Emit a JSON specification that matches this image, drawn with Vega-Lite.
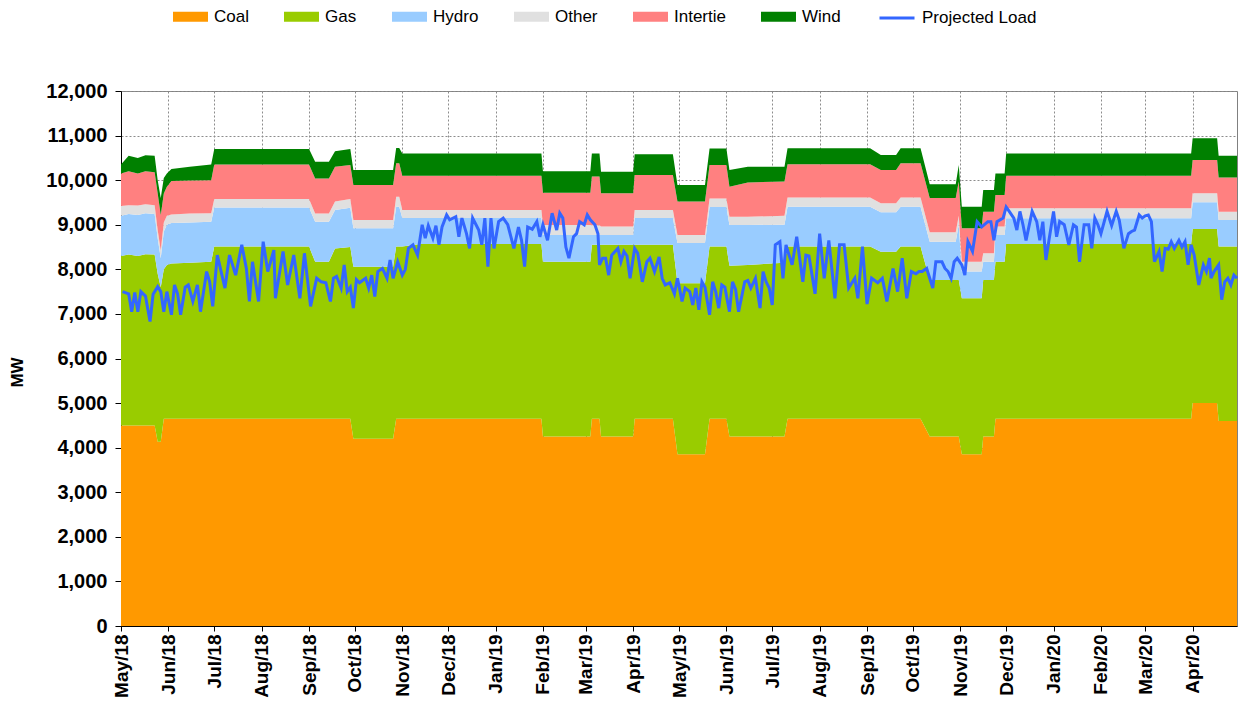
{
"$schema": "https://vega.github.io/schema/vega-lite/v6.json",
"width": 1116, "height": 535,
"autosize": {"type": "none"},
"padding": {"left": 121, "top": 91, "right": 2, "bottom": 81},
"background": "white",
"config": {
  "font": "Liberation Sans",
  "view": {"stroke": "#808080", "strokeWidth": 1},
  "axis": {"domainColor": "black", "tickColor": "black", "labelColor": "black", "titleColor": "black", "gridColor": "#8c8c8c", "gridDash": [2, 2], "gridWidth": 1, "zindex": 1}
},
"datasets": {
"rank": [{"source": "Coal", "rank": 1}, {"source": "Gas", "rank": 2}, {"source": "Hydro", "rank": 3}, {"source": "Other", "rank": 4}, {"source": "Intertie", "rank": 5}, {"source": "Wind", "rank": 6}],
"gen": [
{"d": "2018/05/01", "Coal": 4500, "Gas": 3800, "Hydro": 900, "Other": 220, "Intertie": 730, "Wind": 200},
{"d": "2018/05/06", "Coal": 4500, "Gas": 3830, "Hydro": 910, "Other": 200, "Intertie": 760, "Wind": 350},
{"d": "2018/05/12", "Coal": 4500, "Gas": 3800, "Hydro": 920, "Other": 210, "Intertie": 720, "Wind": 350},
{"d": "2018/05/17", "Coal": 4500, "Gas": 3840, "Hydro": 920, "Other": 200, "Intertie": 740, "Wind": 360},
{"d": "2018/05/23", "Coal": 4500, "Gas": 3830, "Hydro": 910, "Other": 200, "Intertie": 740, "Wind": 370},
{"d": "2018/05/25", "Coal": 4130, "Gas": 3770, "Hydro": 800, "Other": 180, "Intertie": 820, "Wind": 300},
{"d": "2018/05/27", "Coal": 4130, "Gas": 3470, "Hydro": 650, "Other": 180, "Intertie": 790, "Wind": 380},
{"d": "2018/05/29", "Coal": 4650, "Gas": 3350, "Hydro": 850, "Other": 200, "Intertie": 650, "Wind": 350},
{"d": "2018/05/31", "Coal": 4650, "Gas": 3450, "Hydro": 900, "Other": 200, "Intertie": 650, "Wind": 300},
{"d": "2018/06/03", "Coal": 4650, "Gas": 3480, "Hydro": 910, "Other": 190, "Intertie": 750, "Wind": 270},
{"d": "2018/06/15", "Coal": 4650, "Gas": 3500, "Hydro": 900, "Other": 200, "Intertie": 740, "Wind": 310},
{"d": "2018/06/29", "Coal": 4650, "Gas": 3520, "Hydro": 900, "Other": 190, "Intertie": 740, "Wind": 350},
{"d": "2018/07/01", "Coal": 4650, "Gas": 3860, "Hydro": 875, "Other": 195, "Intertie": 770, "Wind": 350},
{"d": "2018/09/01", "Coal": 4650, "Gas": 3860, "Hydro": 875, "Other": 195, "Intertie": 770, "Wind": 350},
{"d": "2018/09/05", "Coal": 4650, "Gas": 3520, "Hydro": 900, "Other": 185, "Intertie": 785, "Wind": 375},
{"d": "2018/09/14", "Coal": 4650, "Gas": 3520, "Hydro": 900, "Other": 185, "Intertie": 785, "Wind": 375},
{"d": "2018/09/18", "Coal": 4650, "Gas": 3820, "Hydro": 860, "Other": 190, "Intertie": 780, "Wind": 350},
{"d": "2018/09/28", "Coal": 4650, "Gas": 3850, "Hydro": 880, "Other": 200, "Intertie": 760, "Wind": 360},
{"d": "2018/09/30", "Coal": 4200, "Gas": 3860, "Hydro": 860, "Other": 185, "Intertie": 785, "Wind": 340},
{"d": "2018/10/26", "Coal": 4200, "Gas": 3860, "Hydro": 860, "Other": 185, "Intertie": 785, "Wind": 340},
{"d": "2018/10/28", "Coal": 4650, "Gas": 3860, "Hydro": 895, "Other": 225, "Intertie": 750, "Wind": 340},
{"d": "2018/10/30", "Coal": 4650, "Gas": 3860, "Hydro": 895, "Other": 225, "Intertie": 750, "Wind": 340},
{"d": "2018/11/01", "Coal": 4650, "Gas": 3860, "Hydro": 640, "Other": 180, "Intertie": 770, "Wind": 500},
{"d": "2018/11/13", "Coal": 4650, "Gas": 3920, "Hydro": 580, "Other": 180, "Intertie": 770, "Wind": 500},
{"d": "2019/01/31", "Coal": 4650, "Gas": 3920, "Hydro": 580, "Other": 180, "Intertie": 770, "Wind": 500},
{"d": "2019/02/01", "Coal": 4250, "Gas": 3920, "Hydro": 600, "Other": 225, "Intertie": 725, "Wind": 480},
{"d": "2019/03/04", "Coal": 4250, "Gas": 3920, "Hydro": 600, "Other": 225, "Intertie": 725, "Wind": 480},
{"d": "2019/03/05", "Coal": 4650, "Gas": 3900, "Hydro": 220, "Other": 220, "Intertie": 1090, "Wind": 520},
{"d": "2019/03/10", "Coal": 4650, "Gas": 3900, "Hydro": 220, "Other": 220, "Intertie": 1090, "Wind": 520},
{"d": "2019/03/11", "Coal": 4250, "Gas": 4300, "Hydro": 220, "Other": 190, "Intertie": 745, "Wind": 485},
{"d": "2019/04/01", "Coal": 4250, "Gas": 4300, "Hydro": 220, "Other": 190, "Intertie": 745, "Wind": 485},
{"d": "2019/04/02", "Coal": 4650, "Gas": 3900, "Hydro": 600, "Other": 180, "Intertie": 785, "Wind": 465},
{"d": "2019/04/27", "Coal": 4650, "Gas": 3900, "Hydro": 600, "Other": 180, "Intertie": 785, "Wind": 465},
{"d": "2019/04/30", "Coal": 3850, "Gas": 3840, "Hydro": 900, "Other": 180, "Intertie": 750, "Wind": 370},
{"d": "2019/05/18", "Coal": 3850, "Gas": 3840, "Hydro": 900, "Other": 180, "Intertie": 750, "Wind": 370},
{"d": "2019/05/21", "Coal": 4650, "Gas": 3860, "Hydro": 890, "Other": 190, "Intertie": 750, "Wind": 370},
{"d": "2019/06/01", "Coal": 4650, "Gas": 3860, "Hydro": 890, "Other": 190, "Intertie": 750, "Wind": 370},
{"d": "2019/06/03", "Coal": 4250, "Gas": 3830, "Hydro": 915, "Other": 185, "Intertie": 675, "Wind": 375},
{"d": "2019/06/15", "Coal": 4250, "Gas": 3850, "Hydro": 895, "Other": 185, "Intertie": 770, "Wind": 350},
{"d": "2019/07/09", "Coal": 4250, "Gas": 3900, "Hydro": 850, "Other": 200, "Intertie": 770, "Wind": 330},
{"d": "2019/07/11", "Coal": 4650, "Gas": 3860, "Hydro": 895, "Other": 205, "Intertie": 745, "Wind": 360},
{"d": "2019/09/03", "Coal": 4650, "Gas": 3860, "Hydro": 895, "Other": 205, "Intertie": 745, "Wind": 360},
{"d": "2019/09/10", "Coal": 4650, "Gas": 3745, "Hydro": 885, "Other": 200, "Intertie": 750, "Wind": 335},
{"d": "2019/09/20", "Coal": 4650, "Gas": 3745, "Hydro": 885, "Other": 200, "Intertie": 750, "Wind": 335},
{"d": "2019/09/23", "Coal": 4650, "Gas": 3860, "Hydro": 895, "Other": 205, "Intertie": 770, "Wind": 335},
{"d": "2019/10/06", "Coal": 4650, "Gas": 3860, "Hydro": 895, "Other": 205, "Intertie": 770, "Wind": 335},
{"d": "2019/10/12", "Coal": 4250, "Gas": 3510, "Hydro": 860, "Other": 210, "Intertie": 770, "Wind": 310},
{"d": "2019/10/29", "Coal": 4250, "Gas": 3510, "Hydro": 860, "Other": 210, "Intertie": 770, "Wind": 310},
{"d": "2019/10/31", "Coal": 4250, "Gas": 3510, "Hydro": 1240, "Other": 200, "Intertie": 770, "Wind": 370},
{"d": "2019/11/02", "Coal": 3850, "Gas": 3500, "Hydro": 600, "Other": 220, "Intertie": 750, "Wind": 485},
{"d": "2019/11/15", "Coal": 3850, "Gas": 3500, "Hydro": 600, "Other": 220, "Intertie": 750, "Wind": 485},
{"d": "2019/11/16", "Coal": 4250, "Gas": 3510, "Hydro": 410, "Other": 190, "Intertie": 930, "Wind": 490},
{"d": "2019/11/23", "Coal": 4250, "Gas": 3510, "Hydro": 410, "Other": 190, "Intertie": 930, "Wind": 490},
{"d": "2019/11/24", "Coal": 4650, "Gas": 3520, "Hydro": 600, "Other": 190, "Intertie": 710, "Wind": 480},
{"d": "2019/11/30", "Coal": 4650, "Gas": 3520, "Hydro": 600, "Other": 190, "Intertie": 710, "Wind": 480},
{"d": "2019/12/01", "Coal": 4650, "Gas": 3920, "Hydro": 575, "Other": 225, "Intertie": 730, "Wind": 500},
{"d": "2020/03/31", "Coal": 4650, "Gas": 3920, "Hydro": 575, "Other": 225, "Intertie": 730, "Wind": 500},
{"d": "2020/04/01", "Coal": 5000, "Gas": 3905, "Hydro": 600, "Other": 200, "Intertie": 745, "Wind": 490},
{"d": "2020/04/17", "Coal": 5000, "Gas": 3905, "Hydro": 600, "Other": 200, "Intertie": 745, "Wind": 490},
{"d": "2020/04/18", "Coal": 4600, "Gas": 3910, "Hydro": 595, "Other": 185, "Intertie": 770, "Wind": 490},
{"d": "2020/04/30", "Coal": 4600, "Gas": 3910, "Hydro": 595, "Other": 185, "Intertie": 770, "Wind": 490}
],
"load": [
{"d":"2018/05/02","mw":7500},{"d":"2018/05/06","mw":7450},{"d":"2018/05/08","mw":7050},{"d":"2018/05/10","mw":7480},{"d":"2018/05/12","mw":7050},{"d":"2018/05/14","mw":7500},{"d":"2018/05/17","mw":7400},{"d":"2018/05/20","mw":6830},{"d":"2018/05/22","mw":7440},{"d":"2018/05/25","mw":7610},{"d":"2018/05/27","mw":7500},{"d":"2018/05/29","mw":7050},{"d":"2018/05/31","mw":7500},
{"d":"2018/06/03","mw":6980},{"d":"2018/06/05","mw":7650},{"d":"2018/06/07","mw":7450},{"d":"2018/06/09","mw":6980},{"d":"2018/06/12","mw":7600},{"d":"2018/06/14","mw":7650},{"d":"2018/06/17","mw":7280},{"d":"2018/06/20","mw":7650},{"d":"2018/06/22","mw":7050},{"d":"2018/06/26","mw":7950},{"d":"2018/06/28","mw":7720},{"d":"2018/06/30","mw":7170},
{"d":"2018/07/03","mw":8320},{"d":"2018/07/08","mw":7580},{"d":"2018/07/11","mw":8320},{"d":"2018/07/15","mw":7870},{"d":"2018/07/19","mw":8550},{"d":"2018/07/22","mw":8020},{"d":"2018/07/24","mw":7280},{"d":"2018/07/26","mw":8170},{"d":"2018/07/30","mw":7280},
{"d":"2018/08/02","mw":8620},{"d":"2018/08/05","mw":7950},{"d":"2018/08/09","mw":8430},{"d":"2018/08/10","mw":7350},{"d":"2018/08/15","mw":8400},{"d":"2018/08/18","mw":7650},{"d":"2018/08/22","mw":8320},{"d":"2018/08/26","mw":7350},{"d":"2018/08/29","mw":8360},
{"d":"2018/09/02","mw":7170},{"d":"2018/09/06","mw":7800},{"d":"2018/09/09","mw":7720},{"d":"2018/09/12","mw":7700},{"d":"2018/09/15","mw":7280},{"d":"2018/09/17","mw":7800},{"d":"2018/09/19","mw":7840},{"d":"2018/09/22","mw":7580},{"d":"2018/09/24","mw":8100},{"d":"2018/09/26","mw":7500},{"d":"2018/09/28","mw":7600},{"d":"2018/09/30","mw":7130},
{"d":"2018/10/02","mw":7770},{"d":"2018/10/04","mw":7700},{"d":"2018/10/08","mw":7800},{"d":"2018/10/10","mw":7580},{"d":"2018/10/12","mw":7870},{"d":"2018/10/14","mw":7390},{"d":"2018/10/16","mw":7950},{"d":"2018/10/19","mw":8020},{"d":"2018/10/22","mw":7800},{"d":"2018/10/24","mw":8210},{"d":"2018/10/26","mw":7800},{"d":"2018/10/29","mw":8170},
{"d":"2018/11/01","mw":7870},{"d":"2018/11/03","mw":8000},{"d":"2018/11/05","mw":8470},{"d":"2018/11/08","mw":8550},{"d":"2018/11/11","mw":8320},{"d":"2018/11/14","mw":9000},{"d":"2018/11/16","mw":8700},{"d":"2018/11/18","mw":8980},{"d":"2018/11/21","mw":8700},{"d":"2018/11/23","mw":8980},{"d":"2018/11/25","mw":8550},{"d":"2018/11/27","mw":8950},{"d":"2018/11/30","mw":9220},
{"d":"2018/12/02","mw":9110},{"d":"2018/12/06","mw":9180},{"d":"2018/12/08","mw":8730},{"d":"2018/12/10","mw":9150},{"d":"2018/12/13","mw":8800},{"d":"2018/12/15","mw":8470},{"d":"2018/12/17","mw":9150},{"d":"2018/12/21","mw":8880},{"d":"2018/12/23","mw":8550},{"d":"2018/12/25","mw":9150},{"d":"2018/12/27","mw":8060},{"d":"2018/12/29","mw":9150},{"d":"2018/12/31","mw":8470},
{"d":"2019/01/03","mw":9070},{"d":"2019/01/06","mw":9150},{"d":"2019/01/09","mw":9000},{"d":"2019/01/13","mw":8470},{"d":"2019/01/16","mw":8950},{"d":"2019/01/18","mw":8650},{"d":"2019/01/20","mw":8060},{"d":"2019/01/22","mw":8950},{"d":"2019/01/25","mw":8900},{"d":"2019/01/28","mw":9070},{"d":"2019/01/30","mw":8730},
{"d":"2019/02/01","mw":9000},{"d":"2019/02/04","mw":8650},{"d":"2019/02/07","mw":9260},{"d":"2019/02/10","mw":8880},{"d":"2019/02/12","mw":9260},{"d":"2019/02/14","mw":9150},{"d":"2019/02/16","mw":8500},{"d":"2019/02/18","mw":8250},{"d":"2019/02/21","mw":8730},{"d":"2019/02/23","mw":8800},{"d":"2019/02/25","mw":9070},{"d":"2019/02/28","mw":9000},
{"d":"2019/03/02","mw":9220},{"d":"2019/03/04","mw":9110},{"d":"2019/03/07","mw":9000},{"d":"2019/03/09","mw":8800},{"d":"2019/03/10","mw":8100},{"d":"2019/03/12","mw":8250},{"d":"2019/03/14","mw":8250},{"d":"2019/03/16","mw":7870},{"d":"2019/03/18","mw":8320},{"d":"2019/03/22","mw":8470},{"d":"2019/03/24","mw":8170},{"d":"2019/03/26","mw":8400},{"d":"2019/03/28","mw":8300},{"d":"2019/03/30","mw":7800},
{"d":"2019/04/02","mw":8470},{"d":"2019/04/04","mw":8360},{"d":"2019/04/07","mw":7720},{"d":"2019/04/10","mw":8170},{"d":"2019/04/12","mw":8250},{"d":"2019/04/15","mw":7950},{"d":"2019/04/18","mw":8280},{"d":"2019/04/20","mw":7800},{"d":"2019/04/22","mw":7650},{"d":"2019/04/25","mw":7700},{"d":"2019/04/28","mw":7450},{"d":"2019/04/30","mw":7800},
{"d":"2019/05/03","mw":7280},{"d":"2019/05/05","mw":7580},{"d":"2019/05/08","mw":7500},{"d":"2019/05/10","mw":7200},{"d":"2019/05/12","mw":7580},{"d":"2019/05/14","mw":7090},{"d":"2019/05/16","mw":7720},{"d":"2019/05/18","mw":7600},{"d":"2019/05/21","mw":6980},{"d":"2019/05/23","mw":7720},{"d":"2019/05/25","mw":7500},{"d":"2019/05/27","mw":7130},{"d":"2019/05/29","mw":7650},{"d":"2019/05/31","mw":7600},
{"d":"2019/06/03","mw":7050},{"d":"2019/06/05","mw":7720},{"d":"2019/06/07","mw":7550},{"d":"2019/06/09","mw":7050},{"d":"2019/06/13","mw":7720},{"d":"2019/06/15","mw":7750},{"d":"2019/06/17","mw":7580},{"d":"2019/06/20","mw":7800},{"d":"2019/06/23","mw":7130},{"d":"2019/06/25","mw":7950},{"d":"2019/06/27","mw":7720},{"d":"2019/06/29","mw":7580},
{"d":"2019/07/01","mw":7200},{"d":"2019/07/03","mw":8550},{"d":"2019/07/06","mw":8620},{"d":"2019/07/08","mw":7800},{"d":"2019/07/10","mw":8550},{"d":"2019/07/12","mw":8320},{"d":"2019/07/14","mw":8100},{"d":"2019/07/17","mw":8730},{"d":"2019/07/21","mw":7720},{"d":"2019/07/23","mw":8320},{"d":"2019/07/25","mw":8300},{"d":"2019/07/29","mw":7450},
{"d":"2019/08/01","mw":8800},{"d":"2019/08/04","mw":7800},{"d":"2019/08/07","mw":8650},{"d":"2019/08/11","mw":7350},{"d":"2019/08/14","mw":8550},{"d":"2019/08/17","mw":8550},{"d":"2019/08/20","mw":7580},{"d":"2019/08/24","mw":7800},{"d":"2019/08/26","mw":7350},{"d":"2019/08/29","mw":8510},
{"d":"2019/09/01","mw":7220},{"d":"2019/09/04","mw":7800},{"d":"2019/09/08","mw":7700},{"d":"2019/09/11","mw":7800},{"d":"2019/09/14","mw":7280},{"d":"2019/09/18","mw":8020},{"d":"2019/09/21","mw":7500},{"d":"2019/09/24","mw":8250},{"d":"2019/09/27","mw":7350},{"d":"2019/09/30","mw":7950},
{"d":"2019/10/03","mw":7900},{"d":"2019/10/05","mw":7950},{"d":"2019/10/07","mw":7950},{"d":"2019/10/10","mw":8020},{"d":"2019/10/14","mw":7580},{"d":"2019/10/16","mw":8170},{"d":"2019/10/20","mw":8170},{"d":"2019/10/22","mw":8020},{"d":"2019/10/24","mw":7950},{"d":"2019/10/26","mw":7800},{"d":"2019/10/28","mw":8170},{"d":"2019/10/30","mw":8250},
{"d":"2019/11/02","mw":8100},{"d":"2019/11/04","mw":7870},{"d":"2019/11/06","mw":8620},{"d":"2019/11/09","mw":8400},{"d":"2019/11/12","mw":9070},{"d":"2019/11/15","mw":8950},{"d":"2019/11/19","mw":9070},{"d":"2019/11/21","mw":9070},{"d":"2019/11/23","mw":8650},{"d":"2019/11/25","mw":9070},{"d":"2019/11/29","mw":9150},
{"d":"2019/12/01","mw":9400},{"d":"2019/12/03","mw":9300},{"d":"2019/12/06","mw":9150},{"d":"2019/12/08","mw":8880},{"d":"2019/12/10","mw":9300},{"d":"2019/12/12","mw":9000},{"d":"2019/12/14","mw":8650},{"d":"2019/12/18","mw":9300},{"d":"2019/12/21","mw":9070},{"d":"2019/12/23","mw":8650},{"d":"2019/12/25","mw":9070},{"d":"2019/12/27","mw":8210},{"d":"2019/12/29","mw":8650},
{"d":"2020/01/01","mw":9300},{"d":"2020/01/03","mw":8730},{"d":"2020/01/05","mw":9070},{"d":"2020/01/08","mw":9000},{"d":"2020/01/11","mw":8550},{"d":"2020/01/14","mw":9000},{"d":"2020/01/16","mw":8950},{"d":"2020/01/18","mw":8170},{"d":"2020/01/21","mw":9000},{"d":"2020/01/24","mw":9000},{"d":"2020/01/26","mw":8470},{"d":"2020/01/28","mw":9150},{"d":"2020/01/30","mw":9000},
{"d":"2020/02/01","mw":8800},{"d":"2020/02/05","mw":9300},{"d":"2020/02/08","mw":8980},{"d":"2020/02/11","mw":9300},{"d":"2020/02/13","mw":9100},{"d":"2020/02/16","mw":8470},{"d":"2020/02/19","mw":8800},{"d":"2020/02/21","mw":8850},{"d":"2020/02/23","mw":8880},{"d":"2020/02/26","mw":9220},{"d":"2020/02/28","mw":9150},
{"d":"2020/03/01","mw":9200},{"d":"2020/03/03","mw":9220},{"d":"2020/03/05","mw":9070},{"d":"2020/03/07","mw":8170},{"d":"2020/03/10","mw":8400},{"d":"2020/03/12","mw":7950},{"d":"2020/03/14","mw":8470},{"d":"2020/03/16","mw":8450},{"d":"2020/03/18","mw":8620},{"d":"2020/03/20","mw":8470},{"d":"2020/03/23","mw":8650},{"d":"2020/03/25","mw":8500},{"d":"2020/03/27","mw":8620},{"d":"2020/03/29","mw":8100},{"d":"2020/03/31","mw":8550},
{"d":"2020/04/02","mw":8320},{"d":"2020/04/05","mw":7650},{"d":"2020/04/08","mw":8100},{"d":"2020/04/10","mw":7950},{"d":"2020/04/12","mw":8250},{"d":"2020/04/13","mw":7800},{"d":"2020/04/15","mw":7950},{"d":"2020/04/18","mw":8100},{"d":"2020/04/20","mw":7320},{"d":"2020/04/22","mw":7720},{"d":"2020/04/24","mw":7800},{"d":"2020/04/26","mw":7650},{"d":"2020/04/28","mw":7870},{"d":"2020/04/30","mw":7800}
]
},
"layer": [
{
  "data": {"name": "gen"},
  "transform": [
    {"fold": ["Coal", "Gas", "Hydro", "Other", "Intertie", "Wind"], "as": ["source", "value"]},
    {"lookup": "source", "from": {"data": {"name": "rank"}, "key": "source", "fields": ["rank"]}}
  ],
  "mark": {"type": "area", "interpolate": "linear"},
  "encoding": {
    "x": {"field": "d", "type": "temporal",
      "scale": {"domain": [{"year": 2018, "month": "may", "date": 1}, {"year": 2020, "month": "apr", "date": 30}]},
      "axis": {"title": null, "format": "%b/%y", "tickCount": {"interval": "month", "step": 1}, "labelAngle": -90, "labelFontWeight": "bold", "labelFontSize": 19, "labelPadding": 3, "tickSize": 5, "labelOverlap": false, "labelBound": false, "labelFlush": false, "grid": true}},
    "y": {"field": "value", "type": "quantitative", "stack": "zero",
      "scale": {"domain": [0, 12000], "nice": false},
      "axis": {"title": "MW", "values": [0, 1000, 2000, 3000, 4000, 5000, 6000, 7000, 8000, 9000, 10000, 11000, 12000], "format": ",.0f", "labelFontWeight": "bold", "labelFontSize": 20, "labelPadding": 8, "tickSize": 6, "grid": true, "titleFontWeight": "bold", "titleFontSize": 17, "titleX": -95, "titleY": 281, "titleAngle": -90, "titleBaseline": "bottom", "titleAlign": "center"}},
    "color": {"field": "source", "type": "nominal",
      "scale": {"domain": ["Coal", "Gas", "Hydro", "Other", "Intertie", "Wind"], "range": ["#FF9900", "#99CC00", "#99CCFF", "#E0E0E0", "#FF8080", "#008000"]},
      "legend": {"orient": "none", "legendX": 52, "legendY": -92, "direction": "horizontal", "title": null, "columnPadding": 35, "labelFontSize": 17, "labelOffset": 6, "labelColor": "black", "symbolSize": 1225, "symbolType": "M-1,-0.28H1V0.28H-1Z", "symbolStrokeWidth": 0, "symbolOpacity": 1}},
    "order": {"field": "rank", "type": "quantitative"}
  }
},
{
  "data": {"name": "load"},
  "mark": {"type": "line", "strokeWidth": 3, "interpolate": "linear"},
  "encoding": {
    "x": {"field": "d", "type": "temporal"},
    "y": {"field": "mw", "type": "quantitative"},
    "stroke": {"datum": "Projected Load", "type": "nominal", "scale": {"domain": ["Projected Load"], "range": ["#3366FF"]},
      "legend": {"orient": "none", "legendX": 757, "legendY": -92, "direction": "horizontal", "title": null, "labelFontSize": 17, "labelOffset": 6, "labelColor": "black", "symbolSize": 1225, "symbolType": "stroke", "symbolStrokeWidth": 3, "symbolOpacity": 1}}
  }
}
]
}
